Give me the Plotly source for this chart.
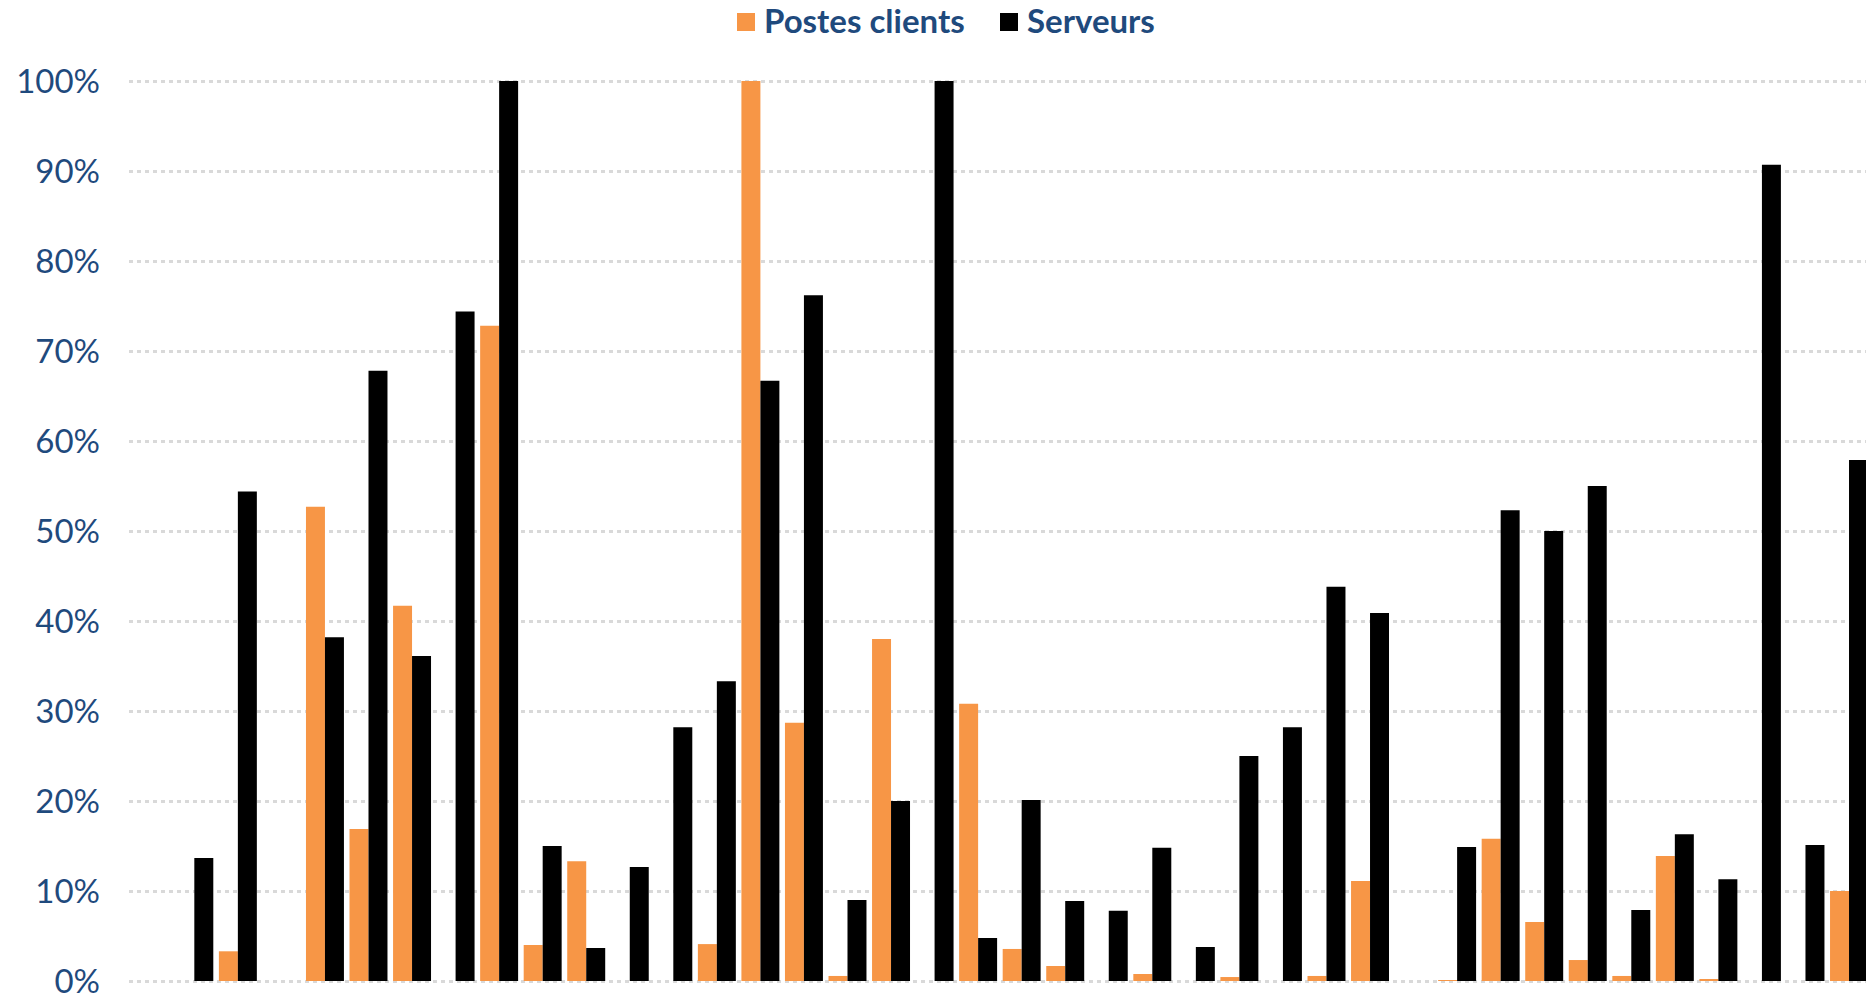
import plotly.graph_objects as go

# ---- data -------------------------------------------------------------
categories = [f"Cat {i + 1}" for i in range(40)]

postes_clients = [0.0, 0.0, 3.3, 0.0, 52.7, 16.9, 41.7, 0.0, 72.8, 4.0,
                  13.3, 0.0, 0.0, 4.1, 100.0, 28.7, 0.56, 38.0, 0.0, 30.8,
                  3.56, 1.67, 0.0, 0.78, 0.0, 0.44, 0.0, 0.56, 11.1, 0.0,
                  0.11, 15.8, 6.56, 2.33, 0.56, 13.9, 0.22, 0.0, 0.0, 10.0]

serveurs = [0.0, 13.67, 54.4, 0.0, 38.2, 67.8, 36.1, 74.4, 100.0, 15.0,
            3.67, 12.67, 28.2, 33.3, 66.7, 76.2, 9.0, 20.0, 100.0, 4.78,
            20.1, 8.9, 7.8, 14.8, 3.78, 25.0, 28.2, 43.8, 40.9, 0.0,
            14.9, 52.3, 50.0, 55.0, 7.9, 16.3, 11.3, 90.7, 15.1, 57.9]

y_ticks = [0, 10, 20, 30, 40, 50, 60, 70, 80, 90, 100]
y_tick_labels = [f"{v}%" for v in y_ticks]

series_names = ["Postes clients", "Serveurs"]
series_colors = ["#F79646", "#000000"]

# ---- layout constants --------------------------------------------------
W, H = 1866, 995
M_L, M_R, M_T, M_B = 129, 0, 72, 5
TEXT_COLOR = "#1F4A7D"
FONT = "Lato"

fig = go.Figure()
for name, vals, col in zip(series_names, [postes_clients, serveurs], series_colors):
    fig.add_trace(go.Bar(
        x=categories,
        y=[v / 100 for v in vals],
        name=name,
        marker=dict(color=col, line=dict(width=0)),
        showlegend=False,
    ))

fig.update_layout(
    width=W, height=H,
    margin=dict(l=M_L, r=M_R, t=M_T, b=M_B, pad=0),
    paper_bgcolor="white", plot_bgcolor="white",
    barmode="group", bargap=0.128, bargroupgap=0.0,
    font=dict(family=FONT, color=TEXT_COLOR),
    xaxis=dict(type="category", range=[-0.5, 39.39], showticklabels=False,
               showgrid=False, zeroline=False, showline=False, ticks=""),
    yaxis=dict(range=[-0.01, 1.01], tickvals=[v / 100 for v in y_ticks],
               ticktext=y_tick_labels, showgrid=True, gridcolor="#D9D9D9",
               gridwidth=3, griddash="4px,4px", zeroline=False, showline=False,
               ticks="", ticklabelstandoff=28, ticklabeloverflow="allow",
               automargin=False,
               tickfont=dict(family=FONT, size=33, color=TEXT_COLOR)),
)

# ---- custom legend (top centre) ---------------------------------------
plot_w = W - M_L - M_R
plot_h = H - M_T - M_B


def px_x(px):
    return (px - M_L) / plot_w


def px_y(py):
    return (H - M_B - py) / plot_h


legend_items = [(series_names[0], series_colors[0], 737, 762),
                (series_names[1], series_colors[1], 1000, 1025)]
for name, col, sq_x, tx in legend_items:
    fig.add_shape(type="rect", xref="paper", yref="paper",
                  x0=px_x(sq_x), x1=px_x(sq_x + 18),
                  y0=px_y(31), y1=px_y(13),
                  fillcolor=col, line=dict(width=0))
    fig.add_annotation(xref="paper", yref="paper", x=px_x(tx), y=px_y(20),
                       text=f"<b>{name}</b>", showarrow=False,
                       xanchor="left", yanchor="middle",
                       font=dict(family=FONT, size=33, color=TEXT_COLOR))

fig.write_html("out.html")
